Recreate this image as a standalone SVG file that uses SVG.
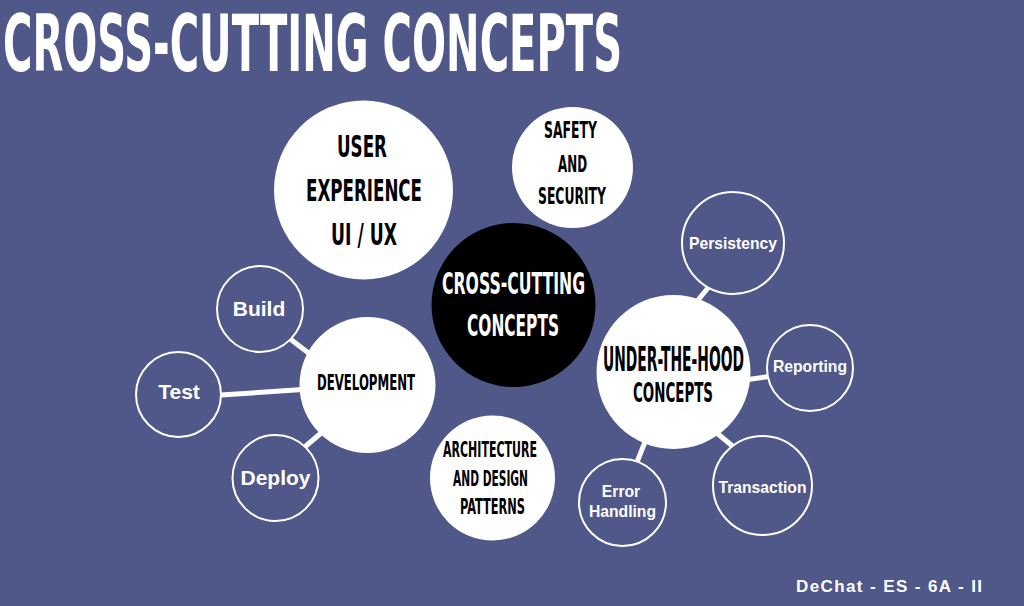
<svg xmlns="http://www.w3.org/2000/svg" width="1024" height="606" viewBox="0 0 1024 606">
<defs>
<style>
.bg{fill:#4f5889}
.solid{fill:#ffffff}
.dark{fill:#000000}
.ring{fill:#4f5889;stroke:#ffffff;stroke-width:2}
.link{stroke:#ffffff;stroke-width:5;stroke-linecap:butt}
.bebas{font-family:"Liberation Sans Narrow","DejaVu Sans Condensed","DejaVu Sans",sans-serif;font-weight:bold;text-anchor:start}
.bk{fill:#000000}
.wt{fill:#ffffff}
.lbl{font-family:"Liberation Sans",Arial,sans-serif;font-weight:bold;fill:#ffffff;text-anchor:middle}
</style>
</defs>
<rect class="bg" x="0" y="0" width="1024" height="606"/>
<text class="bebas wt" x="3" y="71" font-size="79" textLength="619" lengthAdjust="spacingAndGlyphs">CROSS-CUTTING CONCEPTS</text>

<g id="connectors">
<line class="link" x1="221" y1="395" x2="310" y2="389"/>
<line class="link" x1="285" y1="335" x2="315" y2="358"/>
<line class="link" x1="300" y1="451" x2="327" y2="428"/>
<line class="link" x1="712" y1="283" x2="694" y2="305"/>
<line class="link" x1="772" y1="376" x2="745" y2="380"/>
<line class="link" x1="712" y1="429" x2="736" y2="449"/>
<line class="link" x1="647" y1="437" x2="635" y2="467"/>
</g>

<g id="user-experience">
<circle class="solid" cx="363.5" cy="190" r="89.5"/>
<text class="bebas bk" x="337" y="157" font-size="31" textLength="50" lengthAdjust="spacingAndGlyphs">USER</text>
<text class="bebas bk" x="306" y="201" font-size="31" textLength="116" lengthAdjust="spacingAndGlyphs">EXPERIENCE</text>
<text class="bebas bk" x="331" y="245" font-size="31" textLength="66" lengthAdjust="spacingAndGlyphs">UI / UX</text>
</g>

<g id="safety-security">
<circle class="solid" cx="572.5" cy="167.5" r="60.5"/>
<text class="bebas bk" x="544" y="138" font-size="23" textLength="53" lengthAdjust="spacingAndGlyphs">SAFETY</text>
<text class="bebas bk" x="558" y="172" font-size="23" textLength="29" lengthAdjust="spacingAndGlyphs">AND</text>
<text class="bebas bk" x="538" y="204" font-size="23" textLength="68" lengthAdjust="spacingAndGlyphs">SECURITY</text>
</g>

<g id="cross-cutting">
<circle class="dark" cx="513.5" cy="305" r="82"/>
<text class="bebas wt" x="442" y="294" font-size="30" textLength="143" lengthAdjust="spacingAndGlyphs">CROSS-CUTTING</text>
<text class="bebas wt" x="467" y="336" font-size="30" textLength="92" lengthAdjust="spacingAndGlyphs">CONCEPTS</text>
</g>

<g id="development">
<circle class="solid" cx="367.5" cy="385" r="68"/>
<text class="bebas bk" x="317" y="390" font-size="22" textLength="98" lengthAdjust="spacingAndGlyphs">DEVELOPMENT</text>
</g>

<g id="build">
<circle class="ring" cx="260" cy="309" r="43"/>
<text class="lbl" x="259" y="316" font-size="21">Build</text>
</g>

<g id="test">
<circle class="ring" cx="178.5" cy="394.5" r="42.5"/>
<text class="lbl" x="179" y="399" font-size="21">Test</text>
</g>

<g id="deploy">
<circle class="ring" cx="275.5" cy="478" r="43"/>
<text class="lbl" x="275.5" y="485" font-size="21">Deploy</text>
</g>

<g id="architecture">
<circle class="solid" cx="492.5" cy="478" r="62.5"/>
<text class="bebas bk" x="443" y="457" font-size="21" textLength="94" lengthAdjust="spacingAndGlyphs">ARCHITECTURE</text>
<text class="bebas bk" x="453" y="486" font-size="21" textLength="75" lengthAdjust="spacingAndGlyphs">AND DESIGN</text>
<text class="bebas bk" x="460" y="514" font-size="21" textLength="65" lengthAdjust="spacingAndGlyphs">PATTERNS</text>
</g>

<g id="under-the-hood">
<circle class="solid" cx="673.5" cy="372" r="77"/>
<text class="bebas bk" x="603" y="371" font-size="33" textLength="141" lengthAdjust="spacingAndGlyphs">UNDER-THE-HOOD</text>
<text class="bebas bk" x="633" y="402" font-size="27" textLength="80" lengthAdjust="spacingAndGlyphs">CONCEPTS</text>
</g>

<g id="persistency">
<circle class="ring" cx="733" cy="243" r="51"/>
<text class="lbl" x="733" y="249" font-size="15.7">Persistency</text>
</g>

<g id="reporting">
<circle class="ring" cx="810" cy="368" r="43"/>
<text class="lbl" x="810" y="372" font-size="15.7">Reporting</text>
</g>

<g id="transaction">
<circle class="ring" cx="762.5" cy="485.5" r="49.5"/>
<text class="lbl" x="762.5" y="493" font-size="15.7">Transaction</text>
</g>

<g id="error-handling">
<circle class="ring" cx="622.5" cy="502.5" r="43.5"/>
<text class="lbl" x="621" y="497" font-size="15.7">Error</text>
<text class="lbl" x="622.5" y="517" font-size="15.7">Handling</text>
</g>

<text x="796" y="592" font-family="'Liberation Sans',Arial,sans-serif" font-weight="bold" font-size="17" fill="#ffffff" letter-spacing="1.4">DeChat - ES - 6A - II</text>
</svg>
